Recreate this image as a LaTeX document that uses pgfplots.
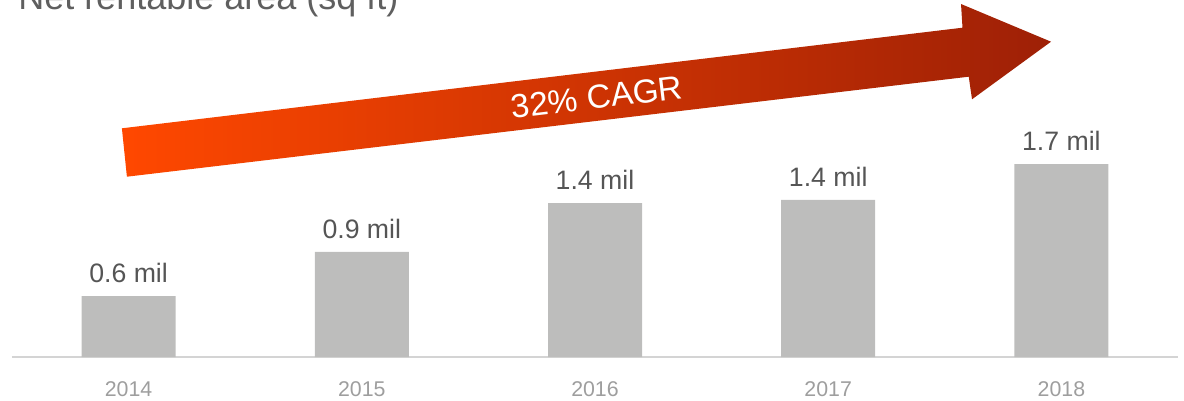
\documentclass[border=0pt]{standalone}
\usepackage{pgfplots}
\pgfplotsset{compat=1.18}
\usepackage{fontspec}
\setmainfont{Liberation Sans}
\definecolor{barg}{RGB}{189,189,188}
\definecolor{valtxt}{RGB}{85,85,85}
\definecolor{ticktxt}{RGB}{158,158,158}
\definecolor{axisln}{RGB}{212,212,212}
\definecolor{arrL}{RGB}{255,72,0}
\definecolor{arrR}{RGB}{158,32,6}
\definecolor{ttl}{RGB}{95,95,95}

\begin{document}
\begin{tikzpicture}
% page = 1184 x 400 px, 1 px = 0.75pt, origin at top left
\path[use as bounding box, clip] (0,0) rectangle (888pt,-300pt);
\begin{axis}[at={(9pt,-267.75pt)}, anchor=south west,
  scale only axis, width=874.5pt, height=267.75pt,
  xmin=-0.5, xmax=4.5, ymin=0, ymax=3.16,
  ybar, bar width=70.5pt,
  axis x line*=bottom, hide y axis,
  axis line style={axisln, line width=1.5pt},
  xtick={0,1,2,3,4}, xticklabels={2014,2015,2016,2017,2018},
  major tick length=0pt,
  xticklabel style={font=\fontsize{16}{19}\selectfont, text=ticktxt, yshift=-15pt},
  nodes near coords, point meta=explicit symbolic,
  every node near coord/.append style={font=\fontsize{20}{24}\selectfont, text=valtxt, inner sep=0pt, yshift=9.75pt},
  clip=false]
 \addplot[fill=barg, draw=none] coordinates
   {(0,0.54) [0.6 mil] (1,0.93) [0.9 mil] (2,1.363) [1.4 mil] (3,1.39) [1.4 mil] (4,1.708) [1.7 mil]};
\end{axis}
\begin{scope}[x=0.75pt, y=-0.75pt]
 \shade[left color=arrL, right color=arrR]
   (121.9,128.3) -- (962.5,27.7) -- (961,4) -- (1051,41.7) -- (972,99.3)
   -- (968.75,76.7) -- (126.9,176.7) -- cycle;
 \node[rotate=6.83, text=white, font=\fontsize{25}{30}\selectfont] at (597,97) {32\% CAGR};
 \node[anchor=base west, inner sep=0pt, text=ttl, font=\fontsize{27}{32}\selectfont] at (18,9) {Net rentable area (sq ft)};
\end{scope}
\end{tikzpicture}
\end{document}
